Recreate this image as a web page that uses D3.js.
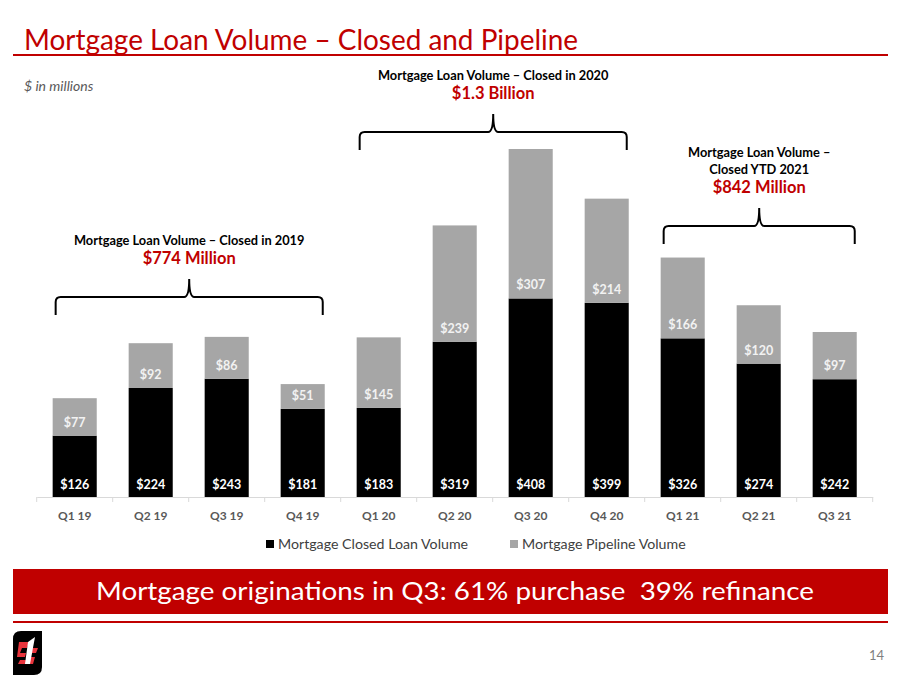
<!DOCTYPE html>
<html>
<head>
<meta charset="utf-8">
<script src="https://cdn.jsdelivr.net/npm/d3@7"></script>
<style>
  html, body { margin: 0; padding: 0; background: #fff; }
  svg { display: block; font-family: Lato, "Open Sans", sans-serif; }
</style>
</head>
<body>
<svg id="chart" width="911" height="683"></svg>
<script>
// quarterly values, $ in millions
const quarters = ["Q1 19", "Q2 19", "Q3 19", "Q4 19", "Q1 20", "Q2 20", "Q3 20", "Q4 20", "Q1 21", "Q2 21", "Q3 21"];
const closedVolume = [126, 224, 243, 181, 183, 319, 408, 399, 326, 274, 242];
const pipelineVolume = [77, 92, 86, 51, 145, 239, 307, 214, 166, 120, 97];
const seriesNames = ["Mortgage Closed Loan Volume", "Mortgage Pipeline Volume"];

// yearly callouts over the bars
const calloutTitles = [["Mortgage Loan Volume \u2013 Closed in 2019"], ["Mortgage Loan Volume \u2013 Closed in 2020"], ["Mortgage Loan Volume \u2013", "Closed YTD 2021"]];
const calloutTotals = ["$774 Million", "$1.3 Billion", "$842 Million"];
const calloutFrom = ["Q1 19", "Q1 20", "Q1 21"];
const calloutTo = ["Q4 19", "Q4 20", "Q3 21"];

const RED = "#c00000";
const svg = d3.select("#chart");
const width = 911, height = 683;

// header
svg.append("text")
  .attr("x", 24).attr("y", 50)
  .attr("fill", RED)
  .attr("font-size", 28)
  .attr("textLength", 554).attr("lengthAdjust", "spacingAndGlyphs")
  .text("Mortgage Loan Volume \u2013 Closed and Pipeline");

svg.append("rect").attr("x", 13).attr("y", 54).attr("width", 875).attr("height", 2).attr("fill", RED);

svg.append("text")
  .attr("x", 24).attr("y", 91)
  .attr("fill", "#595959")
  .attr("font-size", 14)
  .attr("font-style", "italic")
  .text("$ in millions");

// scales
const baseY = 497;
const x = d3.scaleBand()
  .domain(quarters)
  .range([36.7, 872.7])
  .paddingInner(0.42)
  .paddingOuter(0.21);

const y = d3.scaleLinear()
  .domain([0, 800])
  .range([baseY, baseY - 800 * 0.4867]);

const rows = quarters.map((q, i) => ({ q, closed: closedVolume[i], pipeline: pipelineVolume[i] }));

const g = svg.append("g");

// closed (black) segment
g.selectAll("rect.closed")
  .data(rows)
  .join("rect")
  .attr("class", "closed")
  .attr("x", d => x(d.q))
  .attr("width", x.bandwidth())
  .attr("y", d => y(d.closed))
  .attr("height", d => y(0) - y(d.closed))
  .attr("fill", "#000");

// pipeline (gray) segment stacked on top
g.selectAll("rect.pipe")
  .data(rows)
  .join("rect")
  .attr("class", "pipe")
  .attr("x", d => x(d.q))
  .attr("width", x.bandwidth())
  .attr("y", d => y(d.closed + d.pipeline))
  .attr("height", d => y(d.closed) - y(d.closed + d.pipeline))
  .attr("fill", "#a6a6a6");

// value labels, inside base of each segment
g.selectAll("text.closedLbl")
  .data(rows)
  .join("text")
  .attr("x", d => x(d.q) + x.bandwidth() / 2)
  .attr("y", d => y(0) - 8)
  .attr("text-anchor", "middle")
  .attr("fill", "#fff")
  .attr("font-size", 12.5)
  .attr("font-weight", "bold")
  .text(d => "$" + d.closed);

g.selectAll("text.pipeLbl")
  .data(rows)
  .join("text")
  .attr("x", d => x(d.q) + x.bandwidth() / 2)
  .attr("y", d => y(d.closed) - 9)
  .attr("text-anchor", "middle")
  .attr("fill", "#f2f2f2")
  .attr("font-size", 12.5)
  .attr("font-weight", "bold")
  .text(d => "$" + d.pipeline);

// category axis
const axis = svg.append("g")
  .attr("transform", `translate(0,${baseY})`)
  .call(d3.axisBottom(x).tickSize(0).tickPadding(14));
axis.select(".domain").attr("stroke", "#d9d9d9");
axis.selectAll(".tick text")
  .attr("fill", "#595959")
  .attr("font-size", 12)
  .attr("font-weight", "bold")
  .attr("font-family", "Lato, sans-serif");

// tick marks sit between categories
const edges = quarters.map(q => x(q) - x.step() * x.paddingInner() / 2);
edges.push(x.range()[1]);
axis.selectAll("line.sep")
  .data(edges)
  .join("line")
  .attr("x1", d => d).attr("x2", d => d)
  .attr("y1", 0).attr("y2", 5)
  .attr("stroke", "#d9d9d9");

// legend
const legend = svg.append("g").attr("transform", "translate(266,544)");
const legendX = [0, 244];
const legendColors = ["#000", "#a6a6a6"];
seriesNames.forEach((name, i) => {
  legend.append("rect").attr("x", legendX[i]).attr("y", -4).attr("width", 8).attr("height", 8).attr("fill", legendColors[i]);
  legend.append("text")
    .attr("x", legendX[i] + 12).attr("y", 5)
    .attr("fill", "#404040")
    .attr("font-size", 14.2)
    .text(name);
});

// yearly brackets and callouts
const bracketY = [297, 132, 226];
const tipH = 18, legH = 18;
calloutTotals.forEach((total, i) => {
  const x0 = x(calloutFrom[i]) + 3;
  const x1 = x(calloutTo[i]) + x.bandwidth() - 2;
  const mid = (x0 + x1) / 2;
  const by = bracketY[i];
  const r = 5;
  const p = d3.path();
  p.moveTo(x0, by + legH);
  p.lineTo(x0, by + r);
  p.quadraticCurveTo(x0, by, x0 + r, by);
  p.lineTo(mid - r, by);
  p.quadraticCurveTo(mid, by, mid, by - tipH);
  p.quadraticCurveTo(mid, by, mid + r, by);
  p.lineTo(x1 - r, by);
  p.quadraticCurveTo(x1, by, x1, by + r);
  p.lineTo(x1, by + legH);
  svg.append("path").attr("d", p.toString()).attr("fill", "none").attr("stroke", "#000").attr("stroke-width", 2);

  const lines = calloutTitles[i];
  const totalY = by - tipH - 15;
  lines.forEach((ln, j) => {
    svg.append("text")
      .attr("x", mid)
      .attr("y", totalY - 19 - (lines.length - 1 - j) * 17)
      .attr("text-anchor", "middle")
      .attr("fill", "#000")
      .attr("font-size", 12.8)
      .attr("font-weight", "bold")
      .text(ln);
  });
  svg.append("text")
    .attr("x", mid).attr("y", totalY)
    .attr("text-anchor", "middle")
    .attr("fill", RED)
    .attr("font-size", 16.5)
    .attr("font-weight", "bold")
    .text(total);
});

// banner
svg.append("rect").attr("x", 13).attr("y", 569).attr("width", 875).attr("height", 45).attr("fill", RED);
svg.append("text")
  .attr("x", 455).attr("y", 600)
  .attr("text-anchor", "middle")
  .attr("fill", "#fff")
  .attr("font-size", 25)
  .attr("textLength", 718).attr("lengthAdjust", "spacingAndGlyphs")
  .text("Mortgage originations in Q3: 61% purchase\u00a0\u00a039% refinance");
svg.append("rect").attr("x", 13).attr("y", 621).attr("width", 875).attr("height", 2).attr("fill", RED);

// logo
const logo = svg.append("g").attr("transform", "translate(13,631)");
logo.append("path")
  .attr("d", "M8,0 H29 V36 Q29,44 21,44 H0 V8 Q0,0 8,0 Z")
  .attr("fill", "#000");
logo.append("path").attr("d", "M6,11 L16,11 L14,17 L9,17 L7,22 L13,22 L12,26 L4,26 Z").attr("fill", "#e8343c");
logo.append("path").attr("d", "M17,17 L25,17 L23,22 L16,22 L15,26 L22,26 L20,33 L5,33 L7,29 L15,29 Z").attr("fill", "#e8343c");
logo.append("path").attr("d", "M15,11 L22,6 L17,33 L12,33 Z").attr("fill", "#fff");

// page number
svg.append("text")
  .attr("x", 884).attr("y", 660)
  .attr("text-anchor", "end")
  .attr("fill", "#7f7f7f")
  .attr("font-size", 13)
  .text("14");
</script>
</body>
</html>
